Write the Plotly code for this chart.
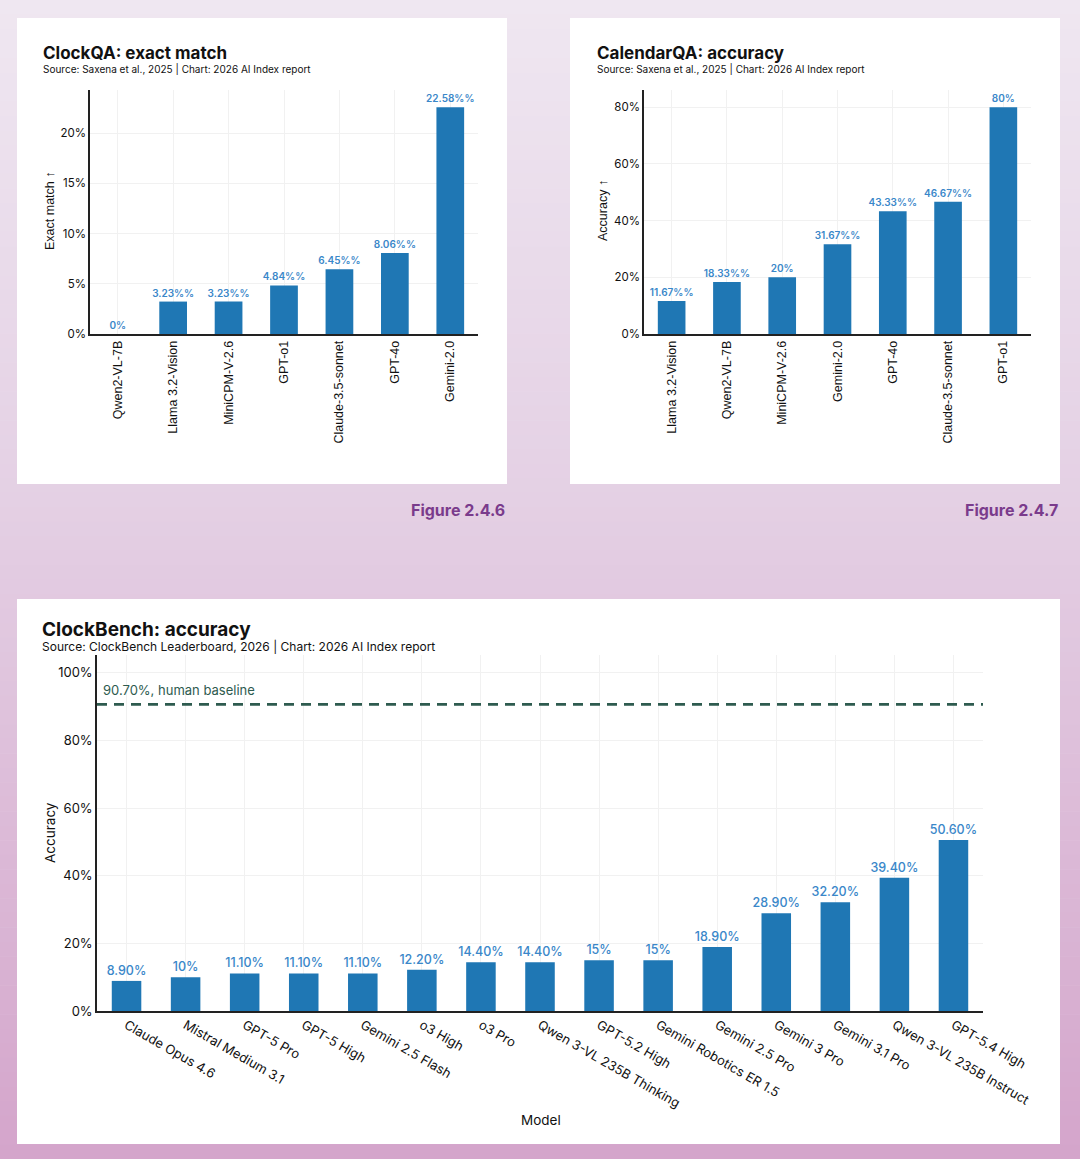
import plotly.graph_objects as go

W, H = 1080, 1159

# ---------------- data ----------------
clockqa_models = ["Qwen2-VL-7B", "Llama 3.2-Vision", "MiniCPM-V-2.6", "GPT-o1",
                  "Claude-3.5-sonnet", "GPT-4o", "Gemini-2.0"]
clockqa_values = [0, 3.23, 3.23, 4.84, 6.45, 8.06, 22.58]

calqa_models = ["Llama 3.2-Vision", "Qwen2-VL-7B", "MiniCPM-V-2.6", "Gemini-2.0",
                "GPT-4o", "Claude-3.5-sonnet", "GPT-o1"]
calqa_values = [11.67, 18.33, 20, 31.67, 43.33, 46.67, 80]

bench_models = ["Claude Opus 4.6", "Mistral Medium 3.1", "GPT-5 Pro", "GPT-5 High",
                "Gemini 2.5 Flash", "o3 High", "o3 Pro", "Qwen 3-VL 235B Thinking",
                "GPT-5.2 High", "Gemini Robotics ER 1.5", "Gemini 2.5 Pro", "Gemini 3 Pro",
                "Gemini 3.1 Pro", "Qwen 3-VL 235B Instruct", "GPT-5.4 High"]
bench_values = [8.9, 10, 11.1, 11.1, 11.1, 12.2, 14.4, 14.4, 15, 15, 18.9, 28.9, 32.2, 39.4, 50.6]
human_baseline = 90.7

y1_ticks = [0, 5, 10, 15, 20]
y2_ticks = [0, 20, 40, 60, 80]
y3_ticks = [0, 20, 40, 60, 80, 100]


def small_label(v):
    return f"{v:g}%" if float(v).is_integer() else f"{v:.2f}%%"


def bench_label(v):
    return f"{v:g}%" if float(v).is_integer() else f"{v:.2f}%"


# ---------------- helpers ----------------
def px(x):
    return x / W


def py(y):
    return 1 - y / H


BAR = "#1f77b4"
LABEL = "#3a87c9"
GRID = "#f1f1f1"
TXT = "#111111"
ARIAL = "Liberation Sans, Arial, sans-serif"
SANS = "Inter, Lato, sans-serif"

fig = go.Figure()

fig.add_trace(go.Bar(
    x=clockqa_models, y=clockqa_values, xaxis="x", yaxis="y",
    marker=dict(color=BAR, line=dict(width=0)),
    text=[small_label(v) for v in clockqa_values], texttemplate="%{text}",
    textposition="outside", constraintext="none", cliponaxis=False,
    textfont=dict(family=SANS, size=10, color=LABEL, weight=600),
    hoverinfo="x+y", showlegend=False))

fig.add_trace(go.Bar(
    x=calqa_models, y=calqa_values, xaxis="x2", yaxis="y2",
    marker=dict(color=BAR, line=dict(width=0)),
    text=[small_label(v) for v in calqa_values], texttemplate="%{text}",
    textposition="outside", constraintext="none", cliponaxis=False,
    textfont=dict(family=SANS, size=10, color=LABEL, weight=600),
    hoverinfo="x+y", showlegend=False))

fig.add_trace(go.Bar(
    x=bench_models, y=bench_values, xaxis="x3", yaxis="y3",
    marker=dict(color=BAR, line=dict(width=0)),
    text=[bench_label(v) for v in bench_values], texttemplate="%{text}",
    textposition="outside", constraintext="none", cliponaxis=False,
    textfont=dict(family=SANS, size=12.5, color=LABEL, weight=500),
    hoverinfo="x+y", showlegend=False))

# ---------------- background ----------------
shapes = []
stops = [(0, (239, 231, 241)), (500, (228, 208, 228)), (1159, (212, 165, 203))]
nb = 80
for i in range(nb):
    y0 = H * i / nb
    y1 = H * (i + 1) / nb
    ym = (y0 + y1) / 2
    for (a, ca), (b, cb) in zip(stops[:-1], stops[1:]):
        if a <= ym <= b:
            t = (ym - a) / (b - a)
            c = tuple(round(ca[k] + (cb[k] - ca[k]) * t) for k in range(3))
            break
    shapes.append(dict(type="rect", xref="paper", yref="paper", layer="below",
                       x0=0, x1=1, y0=py(y1 + 0.5), y1=py(y0),
                       fillcolor=f"rgb{c}", line=dict(width=0)))

for (x0, y0, x1, y1) in [(17, 18, 507, 484), (570, 18, 1060, 484), (17, 599, 1060, 1144)]:
    shapes.append(dict(type="rect", xref="paper", yref="paper", layer="below",
                       x0=px(x0), x1=px(x1), y0=py(y1), y1=py(y0),
                       fillcolor="white", line=dict(width=0)))

shapes.append(dict(type="line", xref="x3 domain", yref="y3", x0=0, x1=1,
                   y0=human_baseline, y1=human_baseline,
                   line=dict(color="#2e5b4f", width=2.8, dash="10px,7px")))

# ---------------- axes ----------------
def xax(domain, anchor, angle, size, family, n):
    return dict(domain=domain, anchor=anchor, type="category", showline=True,
                linecolor="#222222", linewidth=1.5, showgrid=True, gridcolor=GRID,
                gridwidth=1, ticks="", tickangle=angle, range=[-0.5, n - 0.5],
                tickfont=dict(family=family, size=size, color=TXT),
                fixedrange=True, zeroline=False, automargin=False)


def yax(domain, anchor, rng, tickv, size, family):
    return dict(domain=domain, anchor=anchor, range=rng, showline=True,
                linecolor="#222222", linewidth=1.5, showgrid=True, gridcolor=GRID,
                gridwidth=1, ticks="", tickvals=tickv, ticktext=[f"{t}%" for t in tickv],
                tickfont=dict(family=family, size=size, color=TXT),
                zeroline=False, fixedrange=True, automargin=False)


fig.update_layout(
    width=W, height=H, autosize=False,
    margin=dict(l=0, r=0, t=0, b=0, pad=0, autoexpand=False),
    paper_bgcolor="rgb(239,231,241)", plot_bgcolor="rgba(0,0,0,0)",
    bargap=0.5, shapes=shapes, showlegend=False,
    xaxis=xax([px(90), px(478)], "y", -90, 12.5, ARIAL, len(clockqa_models)),
    yaxis=yax([py(334), py(90)], "x", [0, 24.3], y1_ticks, 11.5, SANS),
    xaxis2=xax([px(644), px(1031)], "y2", -90, 12.5, ARIAL, len(calqa_models)),
    yaxis2=yax([py(334), py(90)], "x2", [0, 86.1], y2_ticks, 11.5, SANS),
    xaxis3=xax([px(97), px(983)], "y3", 30, 13, SANS, len(bench_models)),
    yaxis3=yax([py(1011), py(655)], "x3", [0, 105.3], y3_ticks, 13, SANS),
)

# ---------------- annotations ----------------
def ann(text, x, y, size, bold=False, color=TXT, xanchor="left", angle=0, family=SANS):
    return dict(text=text, x=px(x), y=py(y), xref="paper", yref="paper",
                xanchor=xanchor, yanchor="middle", showarrow=False, textangle=angle,
                font=dict(family=family, size=size, color=color, weight=700 if bold else 400))


annotations = [
    ann("ClockQA: exact match", 41, 53, 17, bold=True),
    ann("Source: Saxena et al., 2025 | Chart: 2026 AI Index report", 41, 69, 10),
    ann("CalendarQA: accuracy", 595, 53, 17, bold=True),
    ann("Source: Saxena et al., 2025 | Chart: 2026 AI Index report", 595, 69, 10),
    ann("ClockBench: accuracy", 40, 629, 19, bold=True),
    ann("Source: ClockBench Leaderboard, 2026 | Chart: 2026 AI Index report", 40, 646, 12),
    ann("Figure 2.4.6", 507, 510, 16, bold=True, color="#7a3b8c", xanchor="right"),
    ann("Figure 2.4.7", 1060, 510, 16, bold=True, color="#7a3b8c", xanchor="right"),
    ann("Exact match ↑", 50, 211, 12.5, xanchor="center", angle=-90, family=ARIAL),
    ann("Accuracy ↑", 603, 211, 12.5, xanchor="center", angle=-90, family=ARIAL),
    ann("Accuracy", 50, 833, 13.5, xanchor="center", angle=-90),
    ann("Model", 541, 1120, 13.5, xanchor="center"),
    dict(text=f"{human_baseline:.2f}%, human baseline", x=0.005, y=human_baseline,
         xref="x3 domain", yref="y3", xanchor="left", yanchor="bottom", yshift=4,
         showarrow=False, font=dict(family=SANS, size=13, color="#2e5b4f")),
]
fig.update_layout(annotations=annotations)

fig.write_html(
    "out.html",
    config={"displayModeBar": False},
    post_script="document.body.style.margin='0';document.body.style.padding='0';"
                "document.body.style.overflow='hidden';"
                "document.documentElement.style.overflow='hidden';",
)
